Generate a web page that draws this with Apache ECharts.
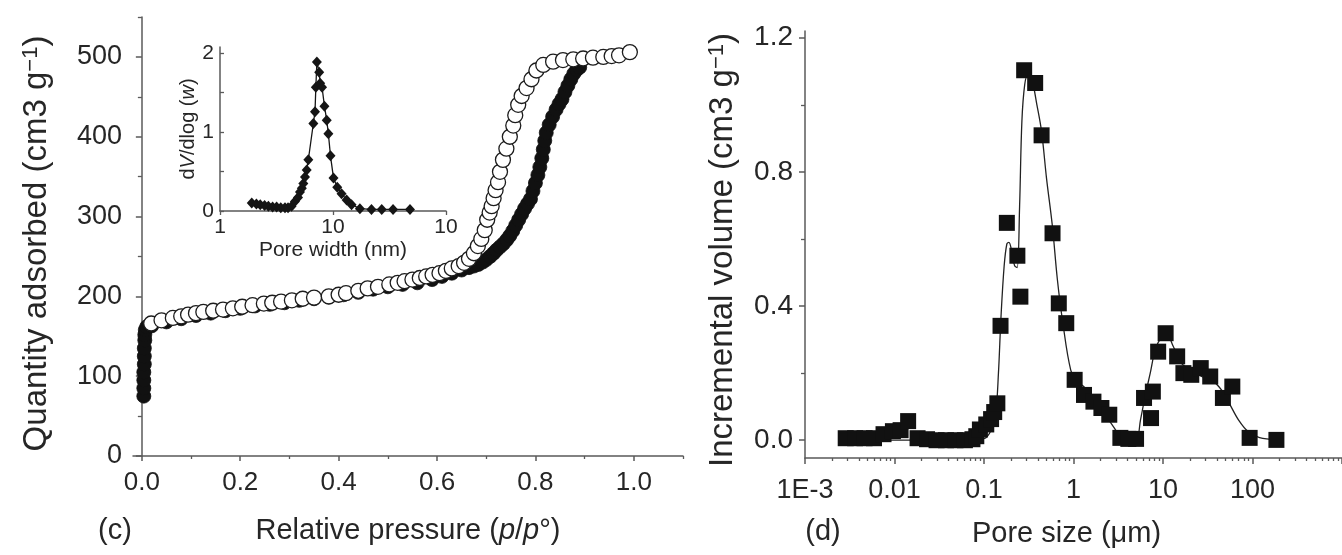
<!DOCTYPE html>
<html>
<head>
<meta charset="utf-8">
<script src="https://cdn.jsdelivr.net/npm/echarts@6/dist/echarts.min.js"></script>
<style>
  html, body { margin: 0; padding: 0; background: #fff; }
  #chart { width: 1342px; height: 555px; }
</style>
</head>
<body>
<div id="chart"></div>
<script>
// (c) N2 sorption isotherm: relative pressure p/p° vs quantity adsorbed (cm3 g-1)
const desorbP = [0.019, 0.04, 0.063, 0.08, 0.094, 0.11, 0.125, 0.145, 0.165, 0.185, 0.204, 0.225, 0.248, 0.265, 0.283, 0.305, 0.327, 0.35, 0.38, 0.40, 0.415, 0.44, 0.459, 0.48, 0.503, 0.52, 0.534, 0.55, 0.565, 0.578, 0.591, 0.605, 0.618, 0.63, 0.644, 0.655, 0.665, 0.675, 0.683, 0.69, 0.697, 0.702, 0.707, 0.711, 0.715, 0.719, 0.724, 0.728, 0.734, 0.741, 0.748, 0.755, 0.759, 0.765, 0.772, 0.782, 0.792, 0.802, 0.816, 0.836, 0.856, 0.877, 0.897, 0.917, 0.938, 0.955, 0.97, 0.992];
const desorbQ = [166, 170, 173, 175, 177, 179, 180.5, 182, 183.5, 185, 187, 189, 191, 192, 193.5, 195, 197, 198.5, 200, 202, 204, 207, 210, 212, 215, 217, 219, 221, 223, 225, 227, 229, 232, 235, 238, 242, 247, 254, 263, 272, 283, 296, 305, 313, 323, 333, 343, 356, 371, 385, 400, 414, 427, 440, 451, 461, 472, 483, 490, 494, 496, 497, 498, 499, 500, 501, 502, 506];
const adsorbP = [0.004, 0.004, 0.004, 0.004, 0.005, 0.005, 0.005, 0.006, 0.006, 0.007, 0.01, 0.02, 0.05, 0.08, 0.11, 0.14, 0.17, 0.2, 0.23, 0.26, 0.29, 0.32, 0.35, 0.38, 0.41, 0.44, 0.47, 0.5, 0.53, 0.56, 0.59, 0.61, 0.63, 0.65, 0.665, 0.675, 0.684, 0.693, 0.70, 0.708, 0.715, 0.721, 0.728, 0.735, 0.742, 0.748, 0.754, 0.76, 0.766, 0.772, 0.778, 0.784, 0.79, 0.795, 0.80, 0.805, 0.809, 0.813, 0.816, 0.819, 0.822, 0.828, 0.835, 0.842, 0.848, 0.854, 0.86, 0.866, 0.872, 0.878, 0.884, 0.89];
const adsorbQ = [75, 85, 95, 105, 115, 125, 135, 145, 152, 158, 162, 163, 168, 172, 176, 179, 182, 185, 188, 190, 192, 195, 197, 199, 202, 205, 209, 212, 215, 217, 221, 225, 229, 233, 236, 238, 240, 243, 246, 250, 254, 258, 262, 266, 271, 276, 282, 289, 296, 303, 310, 316, 322, 332, 342, 352, 362, 373, 384, 395, 405, 415, 425, 434, 441, 447, 456, 464, 472, 479, 484, 487];
const pressureTicks = [0, 0.2, 0.4, 0.6, 0.8, 1.0];
const quantityTicks = [0, 100, 200, 300, 400, 500];

// inset: pore width distribution, dV/dlog(w) vs pore width (nm)
const widthNm = [1.91, 2.1, 2.27, 2.48, 2.68, 2.92, 3.17, 3.45, 3.76, 4.0, 4.3, 4.6, 4.9, 5.1, 5.3, 5.46, 5.65, 5.85, 6.05, 6.7, 6.93, 7.05, 7.2, 7.55, 7.7, 8.0, 8.4, 8.8, 9.1, 9.5, 10.1, 10.9, 11.9, 13.2, 14.6, 17.3, 21.9, 27, 34, 48];
const dVdlogW = [0.1, 0.09, 0.08, 0.07, 0.06, 0.05, 0.05, 0.04, 0.04, 0.04, 0.06, 0.12, 0.17, 0.24, 0.29, 0.35, 0.43, 0.52, 0.65, 1.11, 1.26, 1.57, 1.89, 1.76, 1.62, 1.57, 1.33, 1.15, 0.98, 0.7, 0.42, 0.3, 0.22, 0.14, 0.08, 0.03, 0.02, 0.02, 0.02, 0.02];
const insetXTicks = [1, 10, 100];
const insetXLabels = ['1', '10', '10'];
const insetYTicks = [0, 1, 2];

// (d) mercury intrusion: pore size (µm) vs incremental volume (cm3 g-1)
const poreSizeUm = [0.00285, 0.00363, 0.00463, 0.0059, 0.00754, 0.0096, 0.0117, 0.0142, 0.0181, 0.0231, 0.0295, 0.0376, 0.048, 0.0612, 0.0743, 0.082, 0.09, 0.106, 0.12, 0.13, 0.141, 0.153, 0.18, 0.236, 0.255, 0.281, 0.373, 0.44, 0.583, 0.685, 0.83, 1.03, 1.31, 1.67, 2.05, 2.51, 3.34, 4.1, 5.0, 6.14, 7.35, 7.7, 8.83, 10.7, 14.4, 16.9, 20.7, 26.4, 33.7, 46.7, 59.5, 92.9, 185];
const incVolume = [0.006, 0.006, 0.006, 0.006, 0.018, 0.027, 0.03, 0.057, 0.006, 0.003, 0.0, 0.0, 0.0, 0.0, 0.003, 0.012, 0.032, 0.047, 0.063, 0.084, 0.11, 0.341, 0.648, 0.55, 0.428, 1.103, 1.065, 0.909, 0.617, 0.408, 0.349, 0.18, 0.135, 0.115, 0.096, 0.076, 0.007, 0.004, 0.004, 0.126, 0.066, 0.145, 0.264, 0.319, 0.25, 0.2, 0.195, 0.215, 0.19, 0.126, 0.16, 0.007, 0.001];
// smoothed guide curve through the distribution
const fitSizeUm = [0.003, 0.01, 0.05, 0.1, 0.12, 0.135, 0.145, 0.155, 0.168, 0.18, 0.19, 0.205, 0.22, 0.235, 0.25, 0.265, 0.285, 0.31, 0.34, 0.39, 0.44, 0.5, 0.58, 0.66, 0.76, 0.93, 1.1, 1.3, 1.7, 2.2, 2.8, 3.4, 4, 5, 5.6, 6.3, 7.2, 8.2, 9.5, 11, 13, 16, 20, 27, 35, 45, 55, 70, 90, 120, 185];
const fitVolume = [0, 0, 0, 0.005, 0.03, 0.08, 0.2, 0.37, 0.52, 0.585, 0.59, 0.56, 0.52, 0.515, 0.7, 0.95, 1.06, 1.09, 1.08, 1.0, 0.92, 0.78, 0.64, 0.48, 0.35, 0.21, 0.175, 0.16, 0.12, 0.08, 0.04, 0.008, 0, 0, 0.06, 0.13, 0.2, 0.27, 0.305, 0.315, 0.28, 0.23, 0.21, 0.19, 0.18, 0.15, 0.11, 0.06, 0.025, 0.008, 0.002];
const volumeTicks = [0, 0.4, 0.8, 1.2];
const sizeTicks = [0.001, 0.01, 0.1, 1, 10, 100, 1000];
const sizeLabels = ['1E-3', '0.01', '0.1', '1', '10', '100', '1000'];

const FONT = 'Liberation Sans, Arial, Helvetica, sans-serif';
const INK = '#262626';
const AXIS = '#5a5a5a';

const zip = (xs, ys) => xs.map((x, i) => [x, ys[i]]);
const midpoints = ticks => ticks.map(t => t + (ticks[1] - ticks[0]) / 2);
const logMinor = (lo, hi) => {
  const out = [];
  for (let e = lo; e < hi; e++) for (let k = 2; k <= 9; k++) out.push(+(k * Math.pow(10, e)).toPrecision(6));
  return out;
};
const lookupLabel = (ticks, labels) => v => {
  const i = ticks.findIndex(t => Math.abs(Math.log10(t) - Math.log10(v)) < 1e-6);
  return i < 0 ? '' : labels[i];
};

const textStyle = (size) => ({ fontFamily: FONT, fontSize: size, color: INK });
const rich = (size) => ({
  i: { fontFamily: FONT, fontSize: size, color: INK, fontStyle: 'italic' },
  sup: { fontFamily: FONT, fontSize: Math.round(size * 0.66), color: INK, verticalAlign: 'top', lineHeight: size }
});

// a major axis carrying line, ticks and labels
function majorAxis(extra) {
  return Object.assign({
    splitLine: { show: false },
    axisLine: { show: true, onZero: false, lineStyle: { color: AXIS, width: 1.5 } },
    axisTick: { show: true, inside: false, length: 6, lineStyle: { color: AXIS, width: 1.5 } },
    minorTick: { show: false }
  }, extra);
}
// an overlay axis that only draws short minor ticks
function minorAxis(extra, ticks, len, inside) {
  return Object.assign({
    splitLine: { show: false },
    axisLine: { show: false, onZero: false },
    axisLabel: { show: false },
    axisTick: { show: true, inside: !!inside, length: len, customValues: ticks, lineStyle: { color: AXIS, width: 1.3 } }
  }, extra);
}

const chart = echarts.init(document.getElementById('chart'), null, { renderer: 'canvas' });

chart.setOption({
  animation: false,
  backgroundColor: '#fff',
  grid: [
    { left: 133, top: 17, width: 550, height: 439 },   // (c)
    { left: 220, top: 47, width: 226, height: 164 },   // inset
    { left: 805, top: 31, width: 568, height: 427 }    // (d)
  ],
  xAxis: [
    majorAxis({
      gridIndex: 0, type: 'value', min: -0.018, max: 1.1, position: 'bottom',
      axisLine: { show: true, onZero: true, lineStyle: { color: AXIS, width: 1.5 } },
      axisTick: { show: true, length: 5, customValues: pressureTicks, lineStyle: { color: AXIS, width: 1.5 } },
      axisLabel: { customValues: pressureTicks, margin: 14, formatter: v => v.toFixed(1), ...textStyle(26) },
      name: 'Relative pressure ({i|p}/{i|p}°)', nameLocation: 'middle', nameGap: 60,
      nameTextStyle: { ...textStyle(29), rich: rich(29) }
    }),
    minorAxis({ gridIndex: 0, type: 'value', min: -0.018, max: 1.1, position: 'bottom',
      axisLine: { show: false, onZero: true } }, midpoints(pressureTicks), 3),
    majorAxis({
      gridIndex: 1, type: 'log', logBase: 10, min: 1, max: 100, position: 'bottom',
      axisTick: { show: true, length: 4, customValues: insetXTicks, lineStyle: { color: AXIS, width: 1.3 } },
      axisLabel: { customValues: insetXTicks, margin: 6, formatter: lookupLabel(insetXTicks, insetXLabels), ...textStyle(21) },
      name: 'Pore width (nm)', nameLocation: 'middle', nameGap: 29,
      nameTextStyle: textStyle(21)
    }),
    majorAxis({
      gridIndex: 2, type: 'log', logBase: 10, min: 0.001, max: 1000, position: 'bottom',
      axisTick: { show: true, length: 6, customValues: sizeTicks, lineStyle: { color: AXIS, width: 1.5 } },
      axisLabel: { customValues: sizeTicks.slice(0, 6), margin: 19, formatter: lookupLabel(sizeTicks, sizeLabels), ...textStyle(27) },
      name: 'Pore size (μm)', nameLocation: 'middle', nameGap: 61,
      nameTextStyle: { ...textStyle(29), padding: [0, 14, 0, 0] }
    }),
    minorAxis({ gridIndex: 2, type: 'log', logBase: 10, min: 0.001, max: 1000, position: 'bottom' }, logMinor(-3, 3), 3)
  ],
  yAxis: [
    majorAxis({
      gridIndex: 0, type: 'value', min: 0, max: 550, position: 'left',
      axisLine: { show: true, onZero: true, lineStyle: { color: AXIS, width: 1.5 } },
      axisTick: { show: true, length: 6, customValues: quantityTicks, lineStyle: { color: AXIS, width: 1.5 } },
      axisLabel: { customValues: quantityTicks, margin: 11, ...textStyle(27) },
      name: 'Quantity adsorbed (cm3 g{sup|−1})', nameLocation: 'middle', nameRotate: 90, nameGap: 80,
      nameTextStyle: { ...textStyle(33), rich: rich(33), padding: [0, 14, 0, 0] }
    }),
    minorAxis({ gridIndex: 0, type: 'value', min: 0, max: 550, position: 'left',
      axisLine: { show: false, onZero: true } }, midpoints(quantityTicks), 4),
    majorAxis({
      gridIndex: 1, type: 'value', min: 0, max: 2.08, position: 'left',
      axisTick: { show: true, inside: true, length: 4, customValues: insetYTicks, lineStyle: { color: AXIS, width: 1.3 } },
      axisLabel: { customValues: insetYTicks, margin: 6, ...textStyle(21) },
      name: 'd{i|V}/dlog ({i|w})', nameLocation: 'middle', nameRotate: 90, nameGap: 20,
      nameTextStyle: { ...textStyle(20), rich: rich(20) }
    }),
    minorAxis({ gridIndex: 1, type: 'value', min: 0, max: 2.08, position: 'left' }, [0.5, 1.5], 4, true),
    majorAxis({
      gridIndex: 2, type: 'value', min: -0.053, max: 1.22, position: 'left',
      axisTick: { show: true, length: 6, customValues: volumeTicks, lineStyle: { color: AXIS, width: 1.5 } },
      axisLabel: { customValues: volumeTicks, margin: 12, formatter: v => v.toFixed(1), ...textStyle(28) },
      name: 'Incremental volume (cm3 g{sup|−1})', nameLocation: 'middle', nameRotate: 90, nameGap: 66,
      nameTextStyle: { ...textStyle(33), rich: rich(33), padding: [0, 11, 0, 0] }
    }),
    minorAxis({ gridIndex: 2, type: 'value', min: -0.053, max: 1.22, position: 'left' }, midpoints(volumeTicks).slice(0, 3), 4)
  ],
  series: [
    {
      name: 'adsorption', type: 'scatter', xAxisIndex: 0, yAxisIndex: 0, z: 2,
      symbol: 'circle', symbolSize: 14,
      itemStyle: { color: '#111', borderColor: '#111', borderWidth: 0.8, opacity: 1 },
      data: zip(adsorbP, adsorbQ)
    },
    {
      name: 'desorption', type: 'scatter', xAxisIndex: 0, yAxisIndex: 0, z: 3,
      symbol: 'circle', symbolSize: 15,
      itemStyle: { color: '#fff', borderColor: '#1c1c1c', borderWidth: 1.3, opacity: 1 },
      data: zip(desorbP, desorbQ)
    },
    {
      name: 'pore width', type: 'line', xAxisIndex: 2, yAxisIndex: 2, z: 5,
      symbol: 'diamond', symbolSize: [10, 11], showAllSymbol: true,
      itemStyle: { color: '#151515', opacity: 1 },
      lineStyle: { color: '#151515', width: 1.3 },
      data: zip(widthNm, dVdlogW)
    },
    {
      name: 'fit', type: 'line', xAxisIndex: 3, yAxisIndex: 4, z: 4,
      showSymbol: false, smooth: 0.35,
      lineStyle: { color: '#222', width: 1.3 },
      data: zip(fitSizeUm, fitVolume)
    },
    {
      name: 'incremental volume', type: 'scatter', xAxisIndex: 3, yAxisIndex: 4, z: 6,
      symbol: 'rect', symbolSize: 16,
      itemStyle: { color: '#111', opacity: 1 },
      data: zip(poreSizeUm, incVolume)
    }
  ],
  graphic: [
    { type: 'text', x: 115, y: 531, style: { text: '(c)', fill: INK, font: '29px ' + FONT, align: 'center', verticalAlign: 'middle' } },
    { type: 'text', x: 823, y: 532, style: { text: '(d)', fill: INK, font: '29px ' + FONT, align: 'center', verticalAlign: 'middle' } }
  ]
});
</script>
</body>
</html>
